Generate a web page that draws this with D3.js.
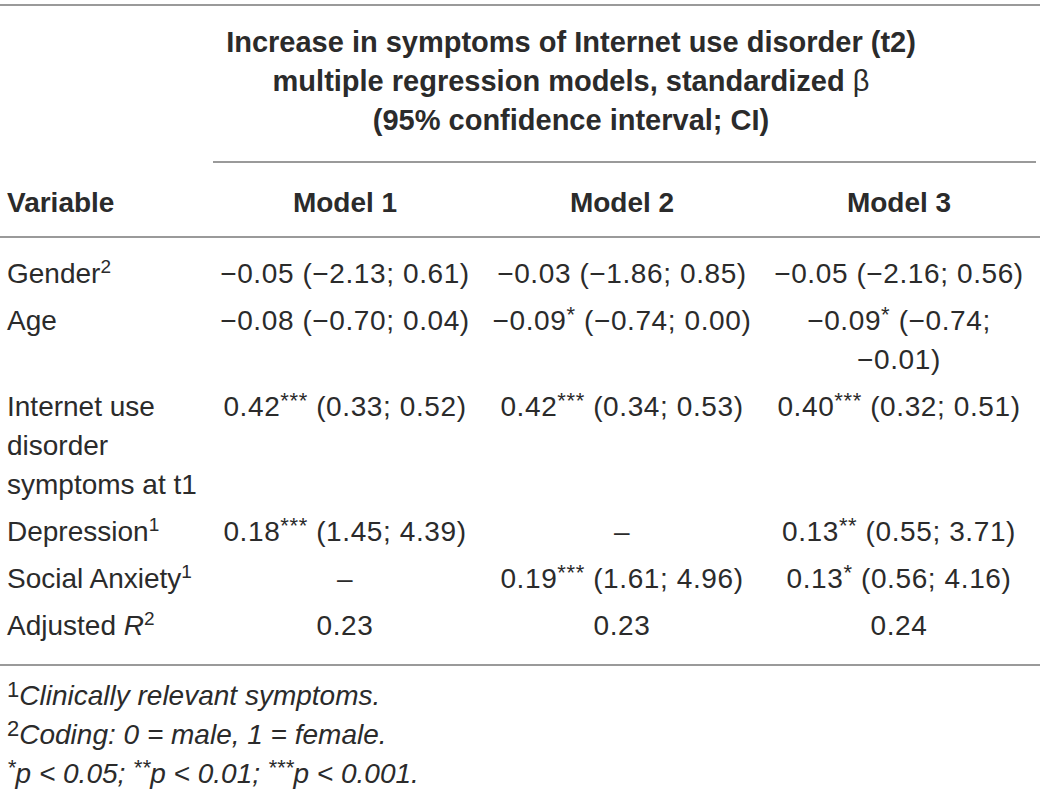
<!DOCTYPE html>
<html><head><meta charset="utf-8">
<script src="https://cdn.jsdelivr.net/npm/d3@7"></script>
<style>body{margin:0;background:#fff} svg{display:block}</style>
</head><body><svg id="c" width="1040" height="792"></svg>
<script>
// ---- data ----
const titleLines = ["Increase in symptoms of Internet use disorder (t2)", "multiple regression models, standardized ", "(95% confidence interval; CI)"];
const titleSymbol = "β";
const variableHeader = "Variable";
const modelNames = ["Model 1", "Model 2", "Model 3"];
const variables = ["Gender", "Age", "Internet use\ndisorder\nsymptoms at t1", "Depression", "Social Anxiety"];
const variableSup = ["2", "", "", "1", "1"];
const model1Beta = [-0.05, -0.08, 0.42, 0.18, null];
const model1Stars = ["", "", "***", "***", ""];
const model1Low = [-2.13, -0.70, 0.33, 1.45, null];
const model1High = [0.61, 0.04, 0.52, 4.39, null];
const model2Beta = [-0.03, -0.09, 0.42, null, 0.19];
const model2Stars = ["", "*", "***", "", "***"];
const model2Low = [-1.86, -0.74, 0.34, null, 1.61];
const model2High = [0.85, 0.00, 0.53, null, 4.96];
const model3Beta = [-0.05, -0.09, 0.40, 0.13, 0.13];
const model3Stars = ["", "*", "***", "**", "*"];
const model3Low = [-2.16, -0.74, 0.32, 0.55, 0.56];
const model3High = [0.56, -0.01, 0.51, 3.71, 4.16];
const adjustedR2 = [0.23, 0.23, 0.24];
const r2Label = "Adjusted ";
const footnotes = [
  [["sup", "1"], ["it", "Clinically relevant symptoms."]],
  [["sup", "2"], ["it", "Coding: 0 = male, 1 = female."]],
  [["supit", "*"], ["it", "p < 0.05; "], ["supit", "**"], ["it", "p < 0.01; "], ["supit", "***"], ["it", "p < 0.001."]]
];

// ---- drawing ----
const svg = d3.select("#c");
const FONT = "'Liberation Sans', Arial, Helvetica, sans-serif";
const TXT = "#2b2b2b";
const LINE = "#9a9a9a";
const x = d3.scalePoint().domain(modelNames).range([345, 899]);
const labelX = 7;

const fmt = v => (v < 0 ? "\u2212" : "") + Math.abs(v).toFixed(2);

function addSegments(textSel, segs, supSize, rise) {
  let raised = false;
  segs.forEach(([type, t]) => {
    const ts = textSel.append("tspan").text(t);
    const isSup = type === "sup" || type === "supit";
    if (isSup && !raised) { ts.attr("dy", -rise); raised = true; }
    else if (!isSup && raised) { ts.attr("dy", rise); raised = false; }
    if (isSup) ts.attr("font-size", supSize);
    if (type === "it" || type === "supit") ts.attr("font-style", "italic");
  });
}

// horizontal rules
const rules = [
  {x1: 0, x2: 1040, y: 5},
  {x1: 213, x2: 1036, y: 162},
  {x1: 0, x2: 1040, y: 237},
  {x1: 0, x2: 1040, y: 665}
];
svg.selectAll("line.rule").data(rules).join("line").attr("class", "rule")
  .attr("x1", d => d.x1).attr("x2", d => d.x2).attr("y1", d => d.y).attr("y2", d => d.y)
  .attr("stroke", LINE).attr("stroke-width", 2);

// title
const titleY = d3.scaleLinear().domain([0, 1]).range([52, 91]);
titleLines.forEach((t, i) => {
  const tx = svg.append("text").attr("x", 571).attr("y", titleY(i))
    .attr("text-anchor", "middle").attr("font-family", FONT).attr("font-size", 29)
    .attr("font-weight", "bold").attr("fill", TXT);
  tx.append("tspan").text(t);
  if (i === 1) tx.append("tspan").attr("font-weight", "normal").text(titleSymbol);
});

// column header
svg.append("text").attr("x", labelX).attr("y", 212).attr("font-family", FONT)
  .attr("font-size", 28).attr("font-weight", "bold").attr("fill", TXT).text(variableHeader);
svg.selectAll("text.mh").data(modelNames).join("text").attr("class", "mh")
  .attr("x", d => x(d)).attr("y", 212).attr("text-anchor", "middle")
  .attr("font-family", FONT).attr("font-size", 28).attr("font-weight", "bold").attr("fill", TXT)
  .text(d => d);

// build body rows
const betas = [model1Beta, model2Beta, model3Beta];
const stars = [model1Stars, model2Stars, model3Stars];
const lows = [model1Low, model2Low, model3Low];
const highs = [model1High, model2High, model3High];

function cellLines(m, r) {
  const b = betas[m][r];
  if (b === null) return ["\u2013"];
  const full = fmt(b) + stars[m][r] + " (" + fmt(lows[m][r]) + "; " + fmt(highs[m][r]) + ")";
  if (full.length <= 20) return [full];
  const k = full.lastIndexOf(" ");
  return [full.slice(0, k), full.slice(k + 1)];
}

const rows = variables.map((v, r) => {
  const labelLines = v.split("\n").map(s => [["n", s]]);
  if (variableSup[r]) labelLines[labelLines.length - 1].push(["sup", variableSup[r]]);
  const cells = modelNames.map((_, m) => cellLines(m, r));
  return {labelLines, cells};
});
rows.push({
  labelLines: [[["n", r2Label], ["it", "R"], ["sup", "2"]]],
  cells: adjustedR2.map(v => [v.toFixed(2)])
});

const LH = 39, GAP = 8;
let y = 283;
rows.forEach(row => {
  const n = Math.max(row.labelLines.length, ...row.cells.map(c => c.length));
  row.labelLines.forEach((segs, i) => {
    const t = svg.append("text").attr("x", labelX).attr("y", y + i * LH)
      .attr("font-family", FONT).attr("font-size", 28).attr("fill", TXT);
    addSegments(t, segs, 19, 10);
  });
  row.cells.forEach((lines, m) => {
    lines.forEach((ln, i) => {
      const t = svg.append("text").attr("x", x(modelNames[m])).attr("y", y + i * LH)
        .attr("text-anchor", "middle").attr("font-family", FONT).attr("font-size", 28)
        .attr("letter-spacing", 0.6).attr("fill", TXT);
      const segs = ln.split(/(\*+)/).filter(s => s.length).map(s => s[0] === "*" ? ["sup", s] : ["n", s]);
      addSegments(t, segs, 22, 8);
    });
  });
  y += (n - 1) * LH + LH + GAP;
});

// footnotes
footnotes.forEach((segs, i) => {
  const t = svg.append("text").attr("x", labelX).attr("y", 705 + i * 39)
    .attr("font-family", FONT).attr("font-size", 28).attr("fill", TXT);
  addSegments(t, segs, i < 2 ? 22 : 22, 8);
});
</script>
</body></html>
